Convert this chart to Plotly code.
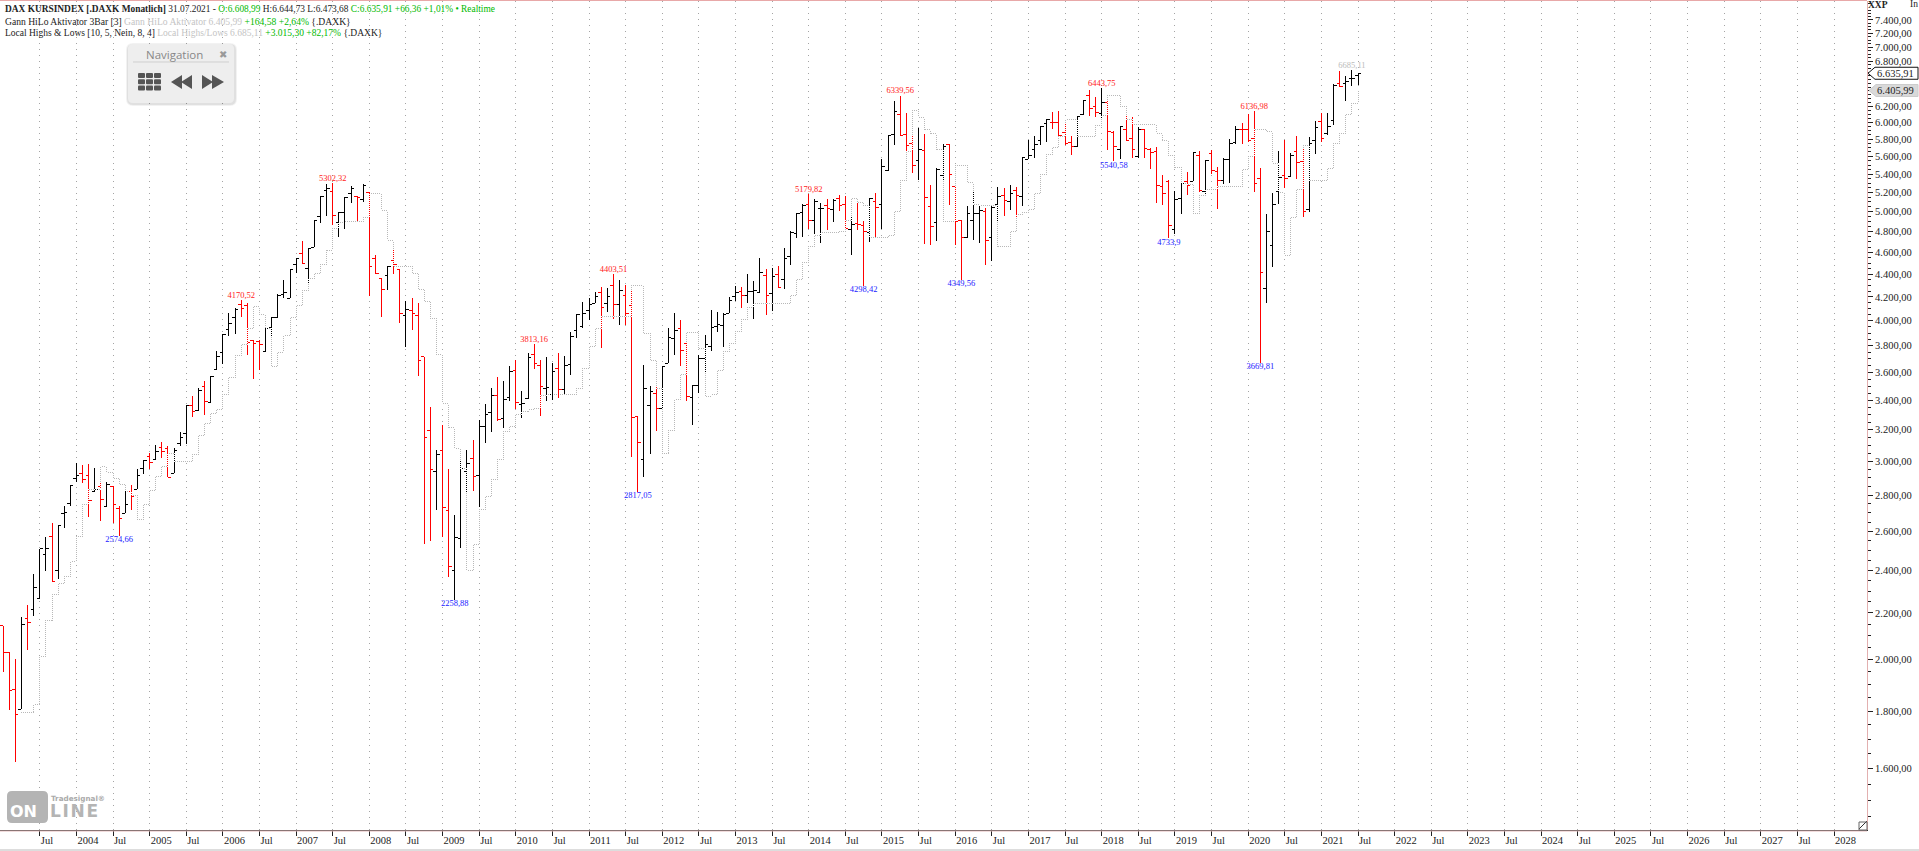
import numpy as np
import plotly.graph_objects as go

W, H = 1919, 851
PLOT_R, PLOT_B, PLOT_T = 1867, 830, 1
SERIF = "Liberation Serif"

# monthly bars, Jan 2003 (index 0) to Jul 2021 (index 222)
opens = [2143,2031,1883,1807,2176,2217,2267,2480,2573,2401,
         2698,2751,2895,2927,2915,2822,2850,2736,2850,2725,
         2698,2822,2833,2957,3030,3012,3087,3081,2927,3113,
         3177,3361,3330,3499,3385,3621,3750,3929,4029,4137,
         4128,3843,3835,3757,3946,4027,4222,4187,4489,4591,
         4452,4647,4948,5223,5212,4892,4993,5191,5159,5127,
         5202,4545,4362,4389,4526,4440,4041,4086,4045,3716,
         3196,2939,3068,2714,2401,2563,2939,3018,2915,3224,
         3317,3434,3276,3420,3614,3371,3410,3735,3651,3483,
         3443,3628,3476,3658,3922,3954,4086,4147,4242,4145,
         4302,4139,4216,4124,3290,3012,3361,3448,3343,3666,
         3858,3938,3819,3420,3507,3704,3792,3950,3965,4061,
         4201,4248,4213,4250,4239,4392,4231,4398,4356,4563,
         4783,4989,5075,4912,5033,5068,5023,5138,5078,4822,
         4882,4862,4789,5110,5075,5444,5860,6103,5860,5749,
         5546,5669,5057,4892,5389,5738,5265,4915,4740,4908,
         4983,4999,4744,5075,5170,5102,5226,5162,5565,5672,
         5781,5982,6003,5994,5881,5762,5710,6102,6339,6197,
         6114,6254,5877,5672,5917,5809,5594,5909,5680,5660,
         5261,5323,4822,5138,5323,5323,5608,5208,5634,5425,
         5334,5565,5757,5917,5909,5809,5352,4274,4666,5208,
         5386,5371,5660,5538,5023,5789,6015,5870,6027,6492,
         6492,6568,6608.99]
highs = [2143,2031,2002,2181,2235,2383,2510,2570,2643,2633,
         2739,2856,2989,2977,2983,2957,2868,2874,2850,2736,
         2822,2856,2951,3006,3050,3102,3119,3094,3081,3183,
         3361,3430,3485,3535,3572,3757,3890,4063,4105,4170.52,
         4145,3843,3843,3938,4027,4224,4344,4443,4545,4706,
         4638,4915,5159,5290,5302.32,4993,5148,5265,5159,5291,
         5202,4573,4362,4471,4619,4443,4165,4190,4145,3716,
         3351,3068,3231,2951,2687,3000,3068,3132,3263,3371,
         3483,3563,3534,3644,3689,3462,3742,3813.16,3689,3711,
         3666,3742,3721,3906,4052,4153,4190,4242,4285,4276,
         4403.51,4347,4303,4250,3290,3651,3501,3490,3646,3938,
         4061,4005,3819,3507,3729,3885,4088,4069,4066,4201,
         4293,4285,4401,4338,4545,4443,4452,4471,4638,4802,
         4982,5078,5179.82,5127,5086,5127,5127,5170,5162,4948,
         5092,4908,5138,5191,5565,5839,6274,6339.56,6114,5837,
         5929,5860,5280,5463,5738,5738,5265,4915,5061,5219,
         5068,5033,5057,5261,5250,5280,5261,5587,5789,5839,
         5957,6040,6126,6143,5991,5839,6080,6283,6412,6326,
         6443.75,6283,5897,5957,6092,6072,5949,5917,5698,5703,
         5389,5334,5215,5298,5425,5646,5660,5557,5672,5474,
         5583,5797,5957,5998,6102,6136.98,5466,4975,5191,5660,
         5789,5634,5836,5698,5821,6019,6114,6114,6492,6666,
         6604,6685.11,6644.73]
lows = [1951,1805,1623,1807,2041,2188,2267,2399,2348,2359,
        2619,2740,2877,2868,2679,2822,2656,2736,2646,2574.66,
        2698,2718,2833,2925,2955,3012,3022,2903,2927,3094,
        3108,3287,3325,3298,3385,3621,3663,3875,3890,4032,
        3731,3552,3618,3757,3866,4027,4187,4187,4407,4499,
        4318,4647,4882,4958,4865,4750,4822,5086,4902,5096,
        4210,4398,4032,4262,4401,3983,3792,3924,3574,2535,
        2550,2716,2571,2370,2258.88,2514,2818,2825,2734,3113,
        3183,3260,3215,3392,3341,3276,3406,3621,3292,3394,
        3401,3417,3441,3582,3858,3940,4005,4147,3782,4074,
        4016,3967,3967,3028,2817.05,2907,3043,3194,3343,3666,
        3729,3646,3394,3231,3452,3603,3762,3911,3792,4061,
        4167,4102,4151,4016,4236,4046,4080,4283,4267,4483,
        4740,4750,4825,4776,4692,4815,4898,5009,4822,4578,
        4815,4298.42,4702,4750,4828,5436,5730,5845,5661,5414,
        5334,4680,4670,4708,5334,5068,4670,4349.56,4740,4718,
        4687,4483,4520,4898,4955,5016,4948,5057,5565,5576,
        5730,5769,5921,5839,5730,5614,5710,6093,6084,6072,
        6040,5672,5540.58,5565,5789,5576,5576,5576,5458,5092,
        5068,4733.9,4776,4975,5173,5323,5208,5184,5396,5026,
        5291,5298,5742,5742,5769,5208,3669.81,4150,4467,5075,
        5250,5371,5345,4948,4999,5629,5762,5849,5972,6456,
        6274,6462,6473.68]
closes = [2031,1879,1789,2150,2159,2319,2510,2510,2348,2633,
          2700,2856,2915,2891,2770,2833,2776,2862,2748,2670,
          2748,2793,2915,3006,2994,3062,3062,2903,3068,3151,
          3361,3323,3471,3394,3572,3719,3890,3978,4097,4102,
          3827,3819,3812,3938,4027,4215,4239,4443,4545,4499,
          4638,4915,5159,5244,4962,4993,5148,5244,5148,5280,
          4471,4403,4265,4471,4489,4061,4094,4061,3689,3151,
          2951,3043,2731,2420,2568,2957,2988,2909,3224,3303,
          3434,3267,3406,3607,3385,3378,3711,3666,3497,3490,
          3607,3476,3651,3874,4052,4061,4136,4207,4110,4207,
          4139,4259,4061,3283,3119,3483,3459,3343,3646,3866,
          3924,3767,3424,3507,3704,3811,3945,3973,4055,4165,
          4239,4215,4248,4253,4416,4213,4380,4283,4545,4793,
          4982,5065,4912,5102,5034,5033,5120,5068,4832,4872,
          4868,4802,5138,5043,5488,5839,6139,5845,5721,5497,
          5680,5151,4855,5452,5715,5397,4905,4740,4983,4983,
          5016,4715,5040,5155,5117,5184,5173,5587,5614,5739,
          5957,6031,5994,5845,5742,5710,6072,6274,6177,6127,
          6254,5885,5710,5949,5789,5672,5917,5692,5641,5280,
          5191,4865,5130,5291,5280,5641,5226,5549,5444,5334,
          5565,5742,5909,5910,5781,5291,4416,4802,5075,5363,
          5356,5614,5526,5003,5750,5941,5809,5953,6475,6461,
          6528,6570,6635.91]

# Gann HiLo activator, starts at bar 3
gann_start = 3
gann = [1796,1796,1826,2014,2168,2286,2338,
        2370,2446,2573,2748,2833,2833,2969,2933,2897,2862,
        2822,2798,2665,2748,2827,2909,2969,3050,3000,3000,
        3000,3043,3164,3243,3310,3337,3441,3562,3726,3811,
        3938,4116,4052,3938,3640,3750,3882,4027,4128,4256,
        4362,4407,4489,4622,4832,4892,4902,4902,4902,4942,
        5191,5191,5013,4715,4471,4471,4471,4407,4265,4162,
        4019,3734,3378,3216,3081,2957,2401,2532,2720,2793,
        2891,3012,3190,3224,3303,3321,3337,3344,3431,3441,
        3441,3441,3441,3441,3483,3628,3792,3938,4032,4037,
        4037,4037,4037,4303,4303,3898,3689,3483,3050,3194,
        3406,3585,3906,3906,3780,3429,3441,3611,3754,3819,
        3914,4011,4110,4145,4145,4145,4145,4145,4145,4213,
        4353,4508,4653,4766,4793,4793,4793,4802,4912,5138,
        5096,5068,4742,4742,4742,4763,5001,5331,5660,6151,
        6064,5917,5869,5680,4902,4902,5497,5497,5309,5075,
        5065,5065,5065,4659,4659,4802,4973,4993,5026,5191,
        5397,5621,5703,5828,6040,6040,5833,5833,5833,5967,
        6089,6344,6344,6203,6040,5979,5979,5979,5979,5869,
        5789,5606,5474,5298,5288,4983,5166,5233,5233,5265,
        5265,5265,5265,5452,5599,5917,5917,5893,5520,5202,
        4573,4942,5233,5726,5331,5331,5331,5463,5750,5869,
        6102,6241,6405.99]

# local highs and lows
high_bars = [39, 54, 87, 100, 132, 147, 180, 205]
high_labels = ["4170,52", "5302,32", "3813,16", "4403,51", "5179,82", "6339,56", "6443,75", "6136,98"]
low_bars = [19, 74, 104, 141, 157, 182, 191, 206]
low_labels = ["2574,66", "2258,88", "2817,05", "4298,42", "4349,56", "5540,58", "4733,9", "3669,81"]
last_high_bar = [221]
last_high_label = ["6685,11"]

x_tick_bars = list(range(6, 301, 6))
x_tick_labels = []
for year in range(2004, 2029):
    x_tick_labels += ["Jul", str(year)]

y_tick_vals = list(range(1600, 7401, 200))
y_tick_labels = ["" if v in (6400, 6600) else f"{v:,.2f}".replace(",", "X").replace(".", ",").replace("X", ".")
                 for v in y_tick_vals]
y_minor_vals = [v for v in range(1450, 7651, 50) if v % 200 != 0]

bars = list(range(len(closes)))
gann_bars = bars[gann_start:]

# vertical scale is log, 7400 sits at y=20 and 1600 at y=768.6
y_lo, y_hi = np.log10(1411.3), np.log10(7693.0)
x_lo, x_hi = -0.52, 305.4


def fx(px):
    return px / PLOT_R


def fy(py):
    return 1 - (py - PLOT_T) / (PLOT_B - PLOT_T)


def fv(value):
    return (np.log10(value) - y_lo) / (y_hi - y_lo)


def poly(points, fill, line=None, width=0):
    path = "M " + " L ".join(f"{fx(x):.5f},{fy(y):.5f}" for x, y in points) + " Z"
    return dict(type="path", xref="paper", yref="paper", path=path, fillcolor=fill,
                line=dict(color=line or fill, width=width), layer="above")


def round_rect(x0, y0, x1, y1, r, fill, line=None, width=0):
    a, b, c, d = fx(x0), fy(y0), fx(x1), fy(y1)
    rx, ry = r / PLOT_R, r / (PLOT_B - PLOT_T)
    path = (f"M {a + rx},{b} L {c - rx},{b} Q {c},{b} {c},{b - ry} L {c},{d + ry} Q {c},{d} {c - rx},{d} "
            f"L {a + rx},{d} Q {a},{d} {a},{d + ry} L {a},{b - ry} Q {a},{b} {a + rx},{b} Z")
    return dict(type="path", xref="paper", yref="paper", path=path, fillcolor=fill,
                line=dict(color=line or fill, width=width), layer="above")


def rule(x0, y0, x1, y1, color, width=1):
    return dict(type="line", xref="paper", yref="paper", x0=fx(x0), y0=fy(y0), x1=fx(x1), y1=fy(y1),
                line=dict(color=color, width=width), layer="above")


def label(x, y, text, size=11, color="#222222", family=SERIF, anchor="left"):
    return dict(xref="paper", yref="paper", x=fx(x), y=fy(y), text=text, showarrow=False, xanchor=anchor,
                yanchor="middle", align="left", font=dict(size=size, color=color, family=family), borderpad=0, borderwidth=0)


fig = go.Figure()
fig.add_trace(go.Scatter(x=gann_bars, y=gann, mode="lines", hoverinfo="skip",
                         line=dict(color="#b8b8b8", width=1, shape="hv", dash="1px,1px")))
fig.add_trace(go.Ohlc(x=bars, open=opens, high=highs, low=lows, close=closes, yaxis="y2", tickwidth=0.5,
                      increasing=dict(line=dict(color="#000000", width=1)),
                      decreasing=dict(line=dict(color="#ff0000", width=1))))
# gaps of the dotted line also cut through the bars
fig.add_trace(go.Scatter(x=gann_bars, y=gann, yaxis="y2", mode="lines", hoverinfo="skip",
                         line=dict(color="#ffffff", width=1, shape="hv", dash="0px,1px,1px,0px")))
fig.add_trace(go.Scatter(x=high_bars, y=[highs[i] for i in high_bars], yaxis="y2", mode="text", text=high_labels,
                         textposition="top center", textfont=dict(family=SERIF, size=8.5, color="#ff1a1a")))
fig.add_trace(go.Scatter(x=low_bars, y=[lows[i] for i in low_bars], yaxis="y2", mode="text", text=low_labels,
                         textposition="bottom center", textfont=dict(family=SERIF, size=8.5, color="#1a1aff")))
fig.add_trace(go.Scatter(x=last_high_bar, y=[highs[i] for i in last_high_bar], yaxis="y2", mode="text",
                         text=last_high_label, textposition="top center",
                         textfont=dict(family=SERIF, size=8.5, color="#bbbbbb")))

shapes = [
    rule(0, 0.5, PLOT_R, 0.5, "#e8a8a8"),
    rule(0, 831, PLOT_R, 831, "#e3b9b9"),
    rule(0, 850, W, 850, "#dddddd", 2),
    rule(1859, 829, 1867, 821, "#333333"),
    poly([(1859, 822), (1867, 822), (1867, 830), (1859, 830)], "rgba(0,0,0,0)", "#666666", 1),
    # navigation panel
    round_rect(126, 43, 237, 106, 7, "rgba(0,0,0,0.05)"),
    round_rect(127, 44, 236, 105, 6, "rgba(0,0,0,0.07)"),
    round_rect(128, 44, 234, 103, 5, "#eeeeee"),
    rule(133, 62, 229, 62, "#cfcfcf"),
    poly([(171, 82), (182, 75), (182, 89)], "#555555"),
    poly([(181, 82), (192, 75), (192, 89)], "#555555"),
    poly([(202, 75), (213, 82), (202, 89)], "#555555"),
    poly([(212, 75), (224, 82), (212, 89)], "#555555"),
    # logo box
    round_rect(7, 791, 48, 823, 5, "#b4b4b4"),
]
for col in range(3):
    for row in range(3):
        left, top = 138 + col * 8, 73 + row * 6.2
        shapes.append(round_rect(left, top, left + 7, top + 5, 1, "#555555"))

# price tags, placed from their values
close_py = PLOT_T + (1 - fv(closes[-1])) * (PLOT_B - PLOT_T)
gann_py = PLOT_T + (1 - fv(gann[-1])) * (PLOT_B - PLOT_T)
shapes.append(poly([(1868, close_py), (1875, close_py - 6), (1918, close_py - 6), (1918, close_py + 6),
                    (1875, close_py + 6)], "#ffffff", "#111111", 1))
shapes.append(poly([(1869, gann_py), (1876, gann_py - 6), (1918, gann_py - 6), (1918, gann_py + 6),
                    (1876, gann_py + 6)], "#d9d9d9", "#cccccc", 1))

GREEN = "#00b900"
GREY = "#c4c4c4"
annotations = [
    label(5, 9, f"<b>DAX KURSINDEX [.DAXK Monatlich]</b> 31.07.2021 - <span style='color:{GREEN}'>O:6.608,99</span> "
                f"H:6.644,73 L:6.473,68 <span style='color:{GREEN}'>C:6.635,91 +66,36 +1,01% • Realtime</span>", 9.4),
    label(5, 21, f"Gann HiLo Aktivator 3Bar [3] <span style='color:{GREY}'>Gann HiLo Aktivator 6.405,99</span> "
                 f"<span style='color:{GREEN}'>+164,58 +2,64%</span> {{.DAXK}}", 9.6),
    label(5, 33, f"Local Highs &amp; Lows [10, 5, Nein, 8, 4] <span style='color:{GREY}'>Local Highs/Lows 6.685,11</span> "
                 f"<span style='color:{GREEN}'>+3.015,30 +82,17%</span> {{.DAXK}}", 9.5),
    label(174, 54, "Navigation", 11.5, "#888888", "Open Sans", "center"),
    label(223, 54, "✖", 10, "#999999", "DejaVu Sans", "center"),
    label(1868, 5, "<b>XXP</b>", 9.5),
    label(1910, 4, "In", 9.5),
    label(1877, close_py, "6.635,91", 10.5),
    label(1877, gann_py, "6.405,99", 10.5),
    label(51, 798, "<b>Tradesignal®</b>", 7.2, "#aaaaaa", "DejaVu Sans"),
    label(10, 811, "<b>ON</b>", 16, "#ffffff", "DejaVu Sans"),
    label(50, 811, "<b>L\u200aI\u200aN\u200aE</b>", 17, "#b4b4b4", "DejaVu Sans"),
]

fig.update_layout(
    width=W, height=H,
    margin=dict(l=0, r=W - PLOT_R, t=PLOT_T, b=H - PLOT_B, pad=0),
    plot_bgcolor="#ffffff", paper_bgcolor="#ffffff",
    showlegend=False, hovermode=False,
    font=dict(family=SERIF, size=10.5, color="#222222"),
    xaxis=dict(range=[x_lo, x_hi], tickmode="array", tickvals=x_tick_bars, ticktext=x_tick_labels,
               ticks="outside", ticklen=5, tickcolor="#222222", ticklabelposition="outside right",
               showgrid=True, gridcolor="#a4a4a4", griddash="1px,5px", gridwidth=1, zeroline=False,
               showline=True, linecolor="#333333", linewidth=1, tickfont=dict(size=10.5),
               rangeslider=dict(visible=False)),
    yaxis=dict(type="log", range=[y_lo, y_hi], side="right", tickmode="array", tickvals=y_tick_vals,
               ticktext=y_tick_labels, ticks="outside", ticklen=5, tickcolor="#222222", showgrid=False,
               zeroline=False, showline=True, linecolor="#e3b0b0", linewidth=1, tickfont=dict(size=10.5),
               minor=dict(tickmode="array", tickvals=y_minor_vals, ticks="outside", ticklen=3,
                          tickcolor="#222222", showgrid=False)),
    yaxis2=dict(type="log", range=[y_lo, y_hi], overlaying="y", side="right", visible=False),
    shapes=shapes, annotations=annotations,
)

# no page margin, and hard 1px edges on the bars and the dotted line
fig.write_html("out.html", config=dict(displayModeBar=False), post_script=(
    "document.body.style.margin='0';"
    "document.querySelectorAll('.ohlclayer path,.scatterlayer path.js-line')"
    ".forEach(function(p){p.style.shapeRendering='crispEdges';});"))
